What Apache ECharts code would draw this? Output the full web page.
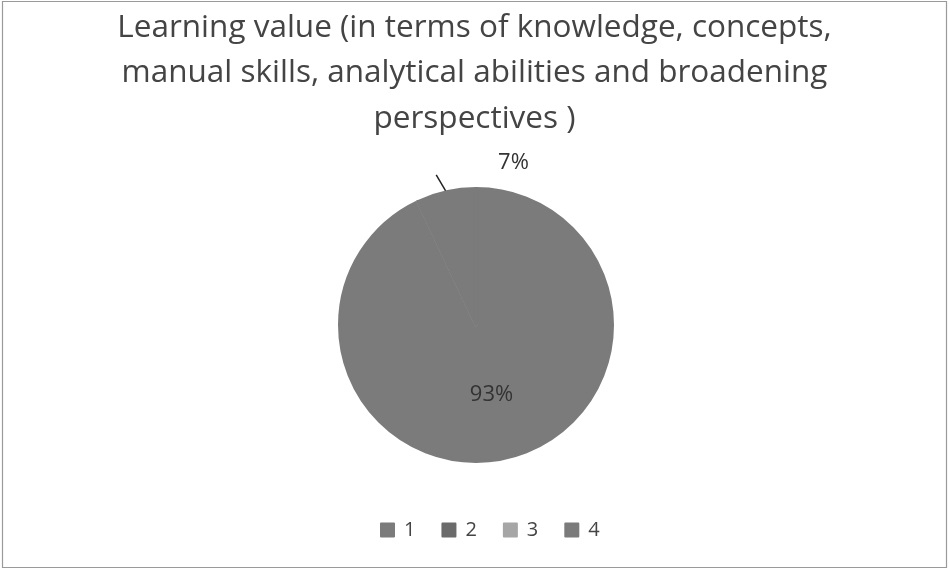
<!DOCTYPE html>
<html>
<head>
<meta charset="utf-8">
<script src="https://cdn.jsdelivr.net/npm/echarts@6/dist/echarts.min.js"></script>
<style>
html,body{margin:0;padding:0;background:#fff;}
#main{width:949px;height:570px;}
</style>
</head>
<body>
<div id="main"></div>
<script>
const titleText = 'Learning value (in terms of knowledge, concepts,\nmanual skills, analytical abilities and broadening\nperspectives )';
const categories = ['1', '2', '3', '4'];
const values = [93, 0, 0, 7];
const colors = ['#7b7b7b', '#6b6b6b', '#a6a6a6', '#7b7b7b'];

const chart = echarts.init(document.getElementById('main'), null, {renderer: 'canvas'});
const total = values.reduce((a, b) => a + b, 0);

const data = categories.map((c, i) => ({
  name: c,
  value: values[i],
  itemStyle: {color: colors[i], borderColor: colors[i], borderWidth: 3},
  label: {
    show: values[i] > 0,
    position: (values[i] / total) < 0.1 ? 'outside' : 'inside'
  },
  labelLine: {show: values[i] > 0 && (values[i] / total) < 0.1}
}));

chart.setOption({
  animation: false,
  backgroundColor: '#ffffff',
  graphic: [{
    type: 'rect',
    shape: {x: 2.5, y: 1.5, width: 944, height: 566},
    style: {fill: 'none', stroke: '#9a9a9a', lineWidth: 1.2},
    silent: true
  }],
  title: {
    text: titleText,
    left: 'center',
    top: 0,
    textStyle: {
      fontFamily: 'Open Sans',
      fontSize: 31.5,
      fontWeight: 'normal',
      color: '#444444',
      lineHeight: 45.5,
      align: 'center'
    }
  },
  legend: {
    bottom: 25,
    left: 375,
    icon: 'rect',
    itemWidth: 13,
    itemHeight: 13,
    itemGap: 26,
    textStyle: {fontFamily: 'Open Sans', fontSize: 20, color: '#444444', padding: [0, 0, 0, 5]},
    data: categories
  },
  series: [{
    type: 'pie',
    center: [476, 325],
    radius: [0, 136.5],
    startAngle: 90,
    clockwise: true,
    avoidLabelOverlap: false,
    data: data,
    label: {
      formatter: p => Math.round(p.percent) + '%',
      fontFamily: 'Open Sans',
      fontSize: 22,
      color: '#333333'
    },
    labelLine: {
      length: 20,
      length2: 0,
      lineStyle: {color: '#222222', width: 1.5}
    },
    labelLayout: function (p) {
      if (p.labelLinePoints && p.dataIndex === 3) {
        const s = p.labelLinePoints[0];
        const e = [s[0] - 10, s[1] - 17];
        return {dx: 92, dy: -10, labelLinePoints: [s, e, e]};
      }
      return {};
    },
    emphasis: {disabled: true}
  }]
});
</script>
</body>
</html>
